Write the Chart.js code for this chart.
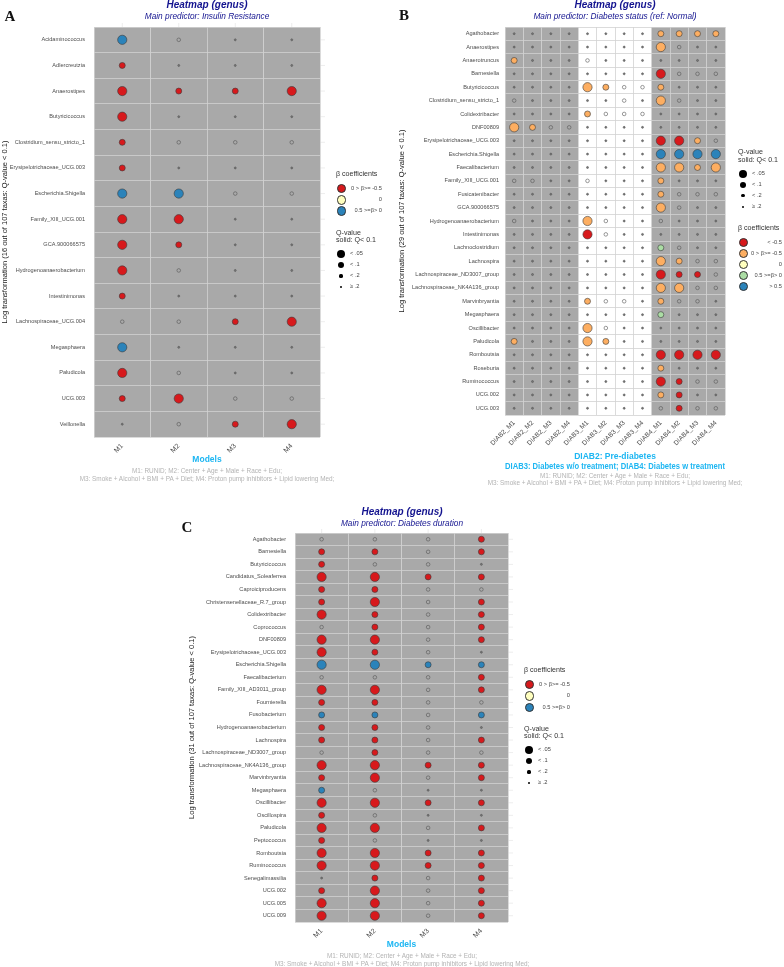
<!DOCTYPE html>
<html>
<head>
<meta charset="utf-8">
<script src="https://cdn.jsdelivr.net/npm/chart.js@4.4.1/dist/chart.umd.min.js"></script>
<style>
  html, body { margin: 0; padding: 0; background: #fff; }
  body { width: 784px; height: 967px; position: relative; overflow: hidden; font-family: "Liberation Sans", Arial, sans-serif; }
  canvas { position: absolute; }
  .t { position: absolute; white-space: nowrap; line-height: 1; will-change: transform; }
  .dot { position: absolute; border-radius: 50%; box-sizing: border-box; }
</style>
</head>
<body>
<canvas id="chartA" width="330" height="466" style="left:0;top:0"></canvas>
<canvas id="chartB" width="340" height="471" style="left:395px;top:0"></canvas>
<canvas id="chartC" width="340" height="451" style="left:180px;top:500px"></canvas>
<script>
// codes: colour letter + q level (0: Q<.05, 1: Q<.1), "o": Q<.2 (open), ".": Q>=.2
const modelsA = ["M1", "M2", "M3", "M4"];
const taxaA = ["Acidaminococcus", "Adlercreutzia", "Anaerostipes", "Butyricicoccus",
  "Clostridium_sensu_stricto_1", "Erysipelotrichaceae_UCG.003", "Escherichia.Shigella",
  "Family_XIII_UCG.001", "GCA.900066575", "Hydrogenoanaerobacterium", "Intestinimonas",
  "Lachnospiraceae_UCG.004", "Megasphaera", "Paludicola", "UCG.003", "Veillonella"];
const cellsA = [
  ["B0", "o", ".", "."],
  ["R1", ".", ".", "."],
  ["R0", "R1", "R1", "R0"],
  ["R0", ".", ".", "."],
  ["R1", "o", "o", "o"],
  ["R1", ".", ".", "."],
  ["B0", "B0", "o", "o"],
  ["R0", "R0", ".", "."],
  ["R0", "R1", ".", "."],
  ["R0", "o", ".", "."],
  ["R1", ".", ".", "."],
  ["o", "o", "R1", "R0"],
  ["B0", ".", ".", "."],
  ["R0", "o", ".", "."],
  ["R1", "R0", "o", "o"],
  [".", "o", "R1", "R0"]
];

const modelsB = ["DIAB2_M1", "DIAB2_M2", "DIAB2_M3", "DIAB2_M4", "DIAB3_M1", "DIAB3_M2", "DIAB3_M3", "DIAB3_M4",
  "DIAB4_M1", "DIAB4_M2", "DIAB4_M3", "DIAB4_M4"];
const taxaB = ["Agathobacter", "Anaerostipes", "Anaerotruncus", "Barnesiella", "Butyricicoccus",
  "Clostridium_sensu_stricto_1", "Colidextribacter", "DNF00809", "Erysipelotrichaceae_UCG.003",
  "Escherichia.Shigella", "Faecalibacterium", "Family_XIII_UCG.001", "Fusicatenibacter",
  "GCA.900066575", "Hydrogenoanaerobacterium", "Intestinimonas", "Lachnoclostridium", "Lachnospira",
  "Lachnospiraceae_ND3007_group", "Lachnospiraceae_NK4A136_group", "Marvinbryantia", "Megasphaera",
  "Oscillibacter", "Paludicola", "Romboutsia", "Roseburia", "Ruminococcus", "UCG.002", "UCG.003"];
const cellsB = [
  [".", ".", ".", ".", ".", ".", ".", ".", "O1", "O1", "O1", "O1"],
  [".", ".", ".", ".", ".", ".", ".", ".", "O0", "o", ".", "."],
  ["O1", ".", ".", ".", "o", ".", ".", ".", ".", ".", ".", "."],
  [".", ".", ".", ".", ".", ".", ".", ".", "R0", "o", "o", "o"],
  [".", ".", ".", ".", "O0", "O1", "o", "o", "O1", ".", ".", "."],
  ["o", ".", ".", ".", ".", ".", "o", ".", "O0", "o", ".", "."],
  [".", ".", ".", ".", "O1", "o", "o", "o", ".", ".", ".", "."],
  ["O0", "O1", "o", "o", ".", ".", ".", ".", ".", ".", ".", "."],
  [".", ".", ".", ".", ".", ".", ".", ".", "R0", "R0", "O1", "o"],
  [".", ".", ".", ".", ".", ".", ".", ".", "B0", "B0", "B0", "B0"],
  [".", ".", ".", ".", ".", ".", ".", ".", "O0", "O0", "O1", "O0"],
  ["o", "o", ".", ".", "o", ".", ".", ".", "O1", ".", ".", "."],
  [".", ".", ".", ".", ".", ".", ".", ".", "O1", "o", "o", "o"],
  [".", ".", ".", ".", ".", ".", ".", ".", "O0", "o", ".", "."],
  ["o", ".", ".", ".", "O0", "o", ".", ".", "o", ".", ".", "."],
  [".", ".", ".", ".", "R0", "o", ".", ".", ".", ".", ".", "."],
  [".", ".", ".", ".", ".", ".", ".", ".", "G1", "o", ".", "."],
  [".", ".", ".", ".", ".", ".", ".", ".", "O0", "O1", "o", "o"],
  [".", ".", ".", ".", ".", ".", ".", ".", "R0", "R1", "R1", "o"],
  [".", ".", ".", ".", ".", ".", ".", ".", "O0", "O0", "o", "o"],
  [".", ".", ".", ".", "O1", "o", "o", ".", "O1", "o", "o", "."],
  [".", ".", ".", ".", ".", ".", ".", ".", "G1", ".", ".", "."],
  [".", ".", ".", ".", "O0", "o", ".", ".", ".", ".", ".", "."],
  ["O1", ".", ".", ".", "O0", "O1", ".", ".", ".", ".", ".", "."],
  [".", ".", ".", ".", ".", ".", ".", ".", "R0", "R0", "R0", "R0"],
  [".", ".", ".", ".", ".", ".", ".", ".", "O1", ".", ".", "."],
  [".", ".", ".", ".", ".", ".", ".", ".", "R0", "R1", "o", "o"],
  [".", ".", ".", ".", ".", ".", ".", ".", "O1", "R1", ".", "."],
  [".", ".", ".", ".", ".", ".", ".", ".", "o", "R1", "o", "o"]
];

const modelsC = ["M1", "M2", "M3", "M4"];
const taxaC = ["Agathobacter", "Barnesiella", "Butyricicoccus", "Candidatus_Soleaferrea", "Caproiciproducens",
  "Christensenellaceae_R.7_group", "Colidextribacter", "Coprococcus", "DNF00809", "Erysipelotrichaceae_UCG.003",
  "Escherichia.Shigella", "Faecalibacterium", "Family_XIII_AD3011_group", "Fournierella", "Fusobacterium",
  "Hydrogenoanaerobacterium", "Lachnospira", "Lachnospiraceae_ND3007_group", "Lachnospiraceae_NK4A136_group",
  "Marvinbryantia", "Megasphaera", "Oscillibacter", "Oscillospira", "Paludicola", "Peptococcus",
  "Romboutsia", "Ruminococcus", "Senegalimassilia", "UCG.002", "UCG.005", "UCG.009"];
const cellsC = [
  ["o", "o", "o", "R1"],
  ["R1", "R1", "o", "R1"],
  ["R1", "o", "o", "."],
  ["R0", "R0", "R1", "R1"],
  ["R1", "R1", "o", "o"],
  ["R1", "R0", "o", "R1"],
  ["R0", "R1", "o", "R1"],
  ["o", "R1", "o", "R1"],
  ["R0", "R0", "o", "R1"],
  ["R0", "R1", "o", "."],
  ["B0", "B0", "B1", "B1"],
  ["o", "o", "o", "R1"],
  ["R0", "R0", "o", "R1"],
  ["R1", "R1", "o", "o"],
  ["B1", "B1", "o", "B1"],
  ["R1", "R1", "o", "."],
  ["R1", "R1", "o", "R1"],
  ["o", "R1", "o", "o"],
  ["R0", "R0", "R1", "R1"],
  ["R1", "R0", "o", "R1"],
  ["B1", "o", ".", "."],
  ["R0", "R0", "R1", "R1"],
  ["R1", "o", ".", "."],
  ["R0", "R0", "o", "R1"],
  ["R1", "o", ".", "."],
  ["R0", "R0", "R1", "R1"],
  ["R0", "R0", "R1", "R1"],
  [".", "R1", "o", "R1"],
  ["R1", "R0", "o", "R1"],
  ["R0", "R0", "o", "R1"],
  ["R0", "R0", "o", "R1"]
];

const qLabels = ["< .05", "< .1", "< .2", "\u2265 .2"];
const betaLabels3 = ["0 > \u03b2>= -0.5", "0", "0.5 >=\u03b2> 0"];
const betaLabels5 = ["< -0.5", "0 > \u03b2>= -0.5", "0", "0.5 >=\u03b2> 0", "> 0.5"];
const caption = ["M1: RUNID; M2: Center + Age + Male + Race + Edu;",
  "M3: Smoke + Alcohol + BMI + PA + Diet; M4: Proton pump inhibitors + Lipid lowering Med;"];

// styles
const FONT = "'Liberation Sans', Arial, sans-serif";
const COLORS = { R: "#D7191C", O: "#FDAE61", Y: "#FFFFBF", G: "#ABDDA4", B: "#2B83BA" };
const RADIUS = { "0": 4.6, "1": 3, "o": 1.8, ".": 1 };
const GRAY_TILE = "#a9a9a9";
const GRID = "#d2d2d2";
const TICK = "#4d4d4d";
const NAVY = "#13138f";
const CYAN = "#1db6f2";

function pointsFrom(taxa, models, cells) {
  const pts = [], r = [], bg = [], bd = [];
  taxa.forEach((t, i) => models.forEach((m, j) => {
    const code = cells[i][j];
    pts.push({ x: m, y: t });
    if (code === "o" || code === ".") {
      r.push(RADIUS[code]);
      bg.push(code === "." ? "#777" : "rgba(0,0,0,0)");
      bd.push("#555");
    } else {
      r.push(RADIUS[code[1]]);
      bg.push(COLORS[code[0]]);
      bd.push("#3a3a3a");
    }
  }));
  return { pts, r, bg, bd };
}

// gray / white tiles behind each column, plus the short grid stubs ggplot leaves outside the tiles
function makeTiles(fill, stubs) {
  return {
    id: "tiles",
    beforeDraw(chart) {
      const { ctx, chartArea: a, scales: { x, y } } = chart;
      const labels = x.getLabels();
      const w = (a.right - a.left) / labels.length;
      ctx.save();
      labels.forEach((lab, i) => {
        const cx = x.getPixelForValue(i);
        ctx.fillStyle = fill(lab);
        ctx.fillRect(cx - w / 2, a.top, w, a.bottom - a.top);
      });
      if (stubs) {
        ctx.strokeStyle = "#e8e8e8";
        ctx.lineWidth = 0.8;
        ctx.beginPath();
        y.getLabels().forEach((lab, i) => {
          const py = y.getPixelForValue(i);
          ctx.moveTo(a.right, py);
          ctx.lineTo(a.right + 5, py);
        });
        labels.forEach((lab, i) => {
          const px = x.getPixelForValue(i);
          ctx.moveTo(px, a.top - 4);
          ctx.lineTo(px, a.top);
        });
        ctx.stroke();
      }
      ctx.restore();
    }
  };
}

function heatmap(id, cfg) {
  const d = pointsFrom(cfg.taxa, cfg.models, cfg.cells);
  return new Chart(document.getElementById(id), {
    type: "scatter",
    data: {
      datasets: [{
        data: d.pts,
        pointRadius: d.r,
        pointHoverRadius: d.r,
        pointBackgroundColor: d.bg,
        pointBorderColor: d.bd,
        pointBorderWidth: 0.6
      }]
    },
    options: {
      responsive: false,
      animation: false,
      devicePixelRatio: 1,
      layout: { padding: cfg.pad },
      plugins: { legend: { display: false }, tooltip: { enabled: false } },
      scales: {
        x: {
          type: "category", labels: cfg.models, offset: true, position: "bottom",
          grid: { offset: true, color: GRID, lineWidth: 0.8, drawTicks: false },
          border: { display: false },
          ticks: { autoSkip: false, minRotation: 45, maxRotation: 45, padding: cfg.xPad, color: TICK,
                   font: { size: cfg.xFont, family: FONT } },
          title: { display: true, text: cfg.xTitle, color: CYAN,
                   font: { size: 8.5, weight: "bold", family: FONT, lineHeight: 1.1 },
                   padding: { top: 0, bottom: cfg.xTitlePad } },
          afterFit: s => { s.height = cfg.xH; }
        },
        y: {
          type: "category", labels: cfg.taxa, offset: true, position: "left",
          grid: { offset: true, color: GRID, lineWidth: 0.8, drawTicks: false },
          border: { display: false },
          ticks: { autoSkip: false, padding: cfg.yPad, color: TICK, font: { size: cfg.yFont, family: FONT } },
          title: { display: true, text: cfg.yTitle, color: "#1a1a1a",
                   font: { size: 7.5, family: FONT, lineHeight: 1.2 },
                   padding: { top: cfg.yTitlePad, bottom: 0 } },
          afterFit: s => { s.width = cfg.yW; }
        }
      }
    },
    plugins: [makeTiles(cfg.tile, cfg.stubs)]
  });
}

heatmap("chartA", {
  taxa: taxaA, models: modelsA, cells: cellsA,
  pad: { top: 27, right: 10, left: 0, bottom: 0 }, yW: 94, xH: 29,
  xPad: 5, xFont: 7, yPad: 9, yFont: 5.6, xTitlePad: 1.3, yTitlePad: 0.5,
  xTitle: "Models", yTitle: "Log transformation (16 out of 107 taxas: Q-value < 0.1)",
  tile: () => GRAY_TILE, stubs: true
});

heatmap("chartB", {
  taxa: taxaB, models: modelsB, cells: cellsB,
  pad: { top: 27, right: 10, left: 0, bottom: 0 }, yW: 110, xH: 56,
  xPad: 4, xFont: 6.6, yPad: 6, yFont: 5.6, xTitlePad: 0, yTitlePad: 2.5,
  xTitle: ["DIAB2: Pre-diabetes", "DIAB3: Diabetes w/o treatment; DIAB4: Diabetes w treatment"],
  yTitle: "Log transformation (29 out of 107 taxas: Q-value < 0.1)",
  tile: lab => lab.startsWith("DIAB3") ? "#ffffff" : GRAY_TILE, stubs: false
});

heatmap("chartC", {
  taxa: taxaC, models: modelsC, cells: cellsC,
  pad: { top: 33, right: 12, left: 0, bottom: 0 }, yW: 115, xH: 29,
  xPad: 5, xFont: 7, yPad: 9, yFont: 5.6, xTitlePad: 1.3, yTitlePad: 7.5,
  xTitle: "Models", yTitle: "Log transformation (31 out of 107 taxas: Q-value < 0.1)",
  tile: () => GRAY_TILE, stubs: true
});

// ---- text & legends (HTML) ----
function txt(x, y, s, style, anchor) {
  const el = document.createElement("div");
  el.className = "t";
  el.textContent = s;
  el.style.cssText += style;
  el.style.left = x + "px";
  el.style.top = y + "px";
  const tx = anchor === "l" ? "0" : anchor === "r" ? "-100%" : "-50%";
  el.style.transform = "translate(" + tx + ",-50%)";
  document.body.appendChild(el);
}
function dot(cx, cy, r, fill, border) {
  const el = document.createElement("div");
  el.className = "dot";
  el.style.cssText = "left:" + (cx - r) + "px;top:" + (cy - r) + "px;width:" + 2 * r + "px;height:" + 2 * r +
    "px;background:" + fill + ";border:" + (border ? "0.6px solid #333" : "none") + ";";
  document.body.appendChild(el);
}

const sLetter = "font-family:'Liberation Serif','Times New Roman',serif;font-weight:bold;font-size:15px;color:#111;";
const sTitle = "font-weight:bold;font-style:italic;font-size:10px;color:" + NAVY + ";";
const sSub = "font-style:italic;font-size:8.3px;color:" + NAVY + ";";
const sCap = "font-size:6.4px;color:#b3b3b3;";
const sLegT = "font-size:7.1px;color:#333333;";
const sLegE = "font-size:5.7px;color:#444444;";

function panelText(cx, ty, subtitle, capY) {
  txt(cx, ty, "Heatmap (genus)", sTitle);
  txt(cx, ty + 11, subtitle, sSub);
  txt(cx, capY, caption[0], sCap);
  txt(cx, capY + 7.5, caption[1], sCap);
}
panelText(207, 5, "Main predictor: Insulin Resistance", 471);
panelText(615, 5, "Main predictor: Diabetes status (ref: Normal)", 475.5);
panelText(402, 512, "Main predictor: Diabetes duration", 956);
txt(10, 16, "A", sLetter);
txt(404, 15, "B", sLetter);
txt(187, 527, "C", sLetter);

const qRadius = [4, 3, 1.6, 1];
function qLegend(x, y) {
  txt(x, y, "Q-value", sLegT, "l");
  txt(x, y + 7.5, "solid: Q< 0.1", sLegT, "l");
  qLabels.forEach((lab, i) => {
    const cy = y + 20.5 + i * 11;
    dot(x + 5, cy, qRadius[i], "#000", false);
    txt(x + 14, cy, lab, sLegE, "l");
  });
}
function betaLegend(x, y, labels, keys, rx, step) {
  txt(x, y, "\u03b2 coefficients", sLegT, "l");
  labels.forEach((lab, i) => {
    const cy = y + 13.5 + i * step;
    dot(x + 5.5, cy, 4.8, COLORS[keys[i]], true);
    txt(rx, cy, lab, sLegE, "r");
  });
}
betaLegend(336, 175, betaLabels3, ["R", "Y", "B"], 382, 11.3);
qLegend(336, 233.5);
qLegend(738, 153);
betaLegend(738, 229, betaLabels5, ["R", "O", "Y", "G", "B"], 782, 11);
betaLegend(524, 671, betaLabels3, ["R", "Y", "B"], 570, 11.5);
qLegend(524, 729.5);
</script>
</body>
</html>
